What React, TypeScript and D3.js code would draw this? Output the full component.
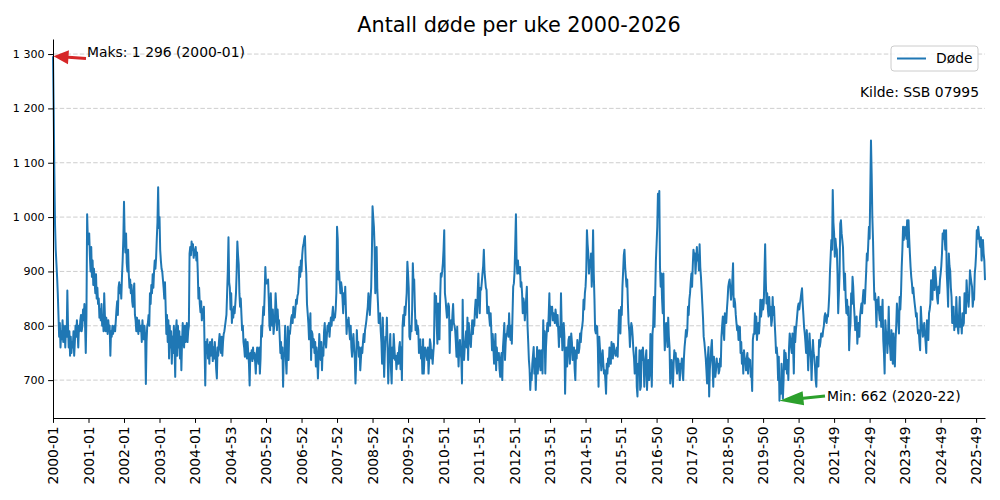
import React, { useEffect, useRef } from 'react';
import * as d3 from 'd3';

// Døde per uke, lest av figuren (kilde: SSB 07995)
const y2000 = [1296, 1200, 1080, 985, 940, 915, 890, 860, 820, 780, 805, 760, 790, 775, 810, 770, 800, 790, 760, 800, 780, 865, 800, 760, 790, 745, 780, 750, 770, 760, 790, 745, 770, 800, 780, 810, 790, 760, 800, 790, 810, 820, 790, 800, 830, 810, 840, 800, 750, 820, 1005, 960];
const y2001 = [950, 970, 930, 900, 945, 890, 920, 875, 905, 880, 860, 895, 850, 870, 840, 850, 815, 830, 810, 840, 800, 820, 790, 860, 820, 790, 815, 800, 785, 810, 790, 800, 745, 790, 780, 800, 785, 795, 800, 790, 810, 830, 845, 820, 870, 880, 860, 875, 850, 890, 920, 960];
const y2002 = [1028, 960, 935, 970, 915, 900, 940, 895, 870, 885, 860, 875, 845, 835, 860, 878, 820, 810, 790, 815, 800, 785, 810, 795, 790, 800, 770, 810, 790, 775, 800, 780, 693, 770, 800, 805, 820, 800, 860, 840, 875, 860, 895, 870, 900, 920, 905, 925, 960, 990, 1055, 980];
const y2003 = [1000, 940, 920, 905, 900, 885, 870, 850, 880, 835, 785, 820, 770, 810, 740, 800, 760, 790, 730, 780, 750, 800, 760, 706, 790, 810, 745, 800, 760, 790, 740, 780, 718, 770, 805, 780, 760, 800, 770, 790, 805, 770, 790, 800, 933, 945, 930, 955, 940, 950, 925, 940];
const y2004 = [930, 945, 920, 935, 900, 850, 870, 840, 825, 845, 810, 830, 815, 835, 760, 690, 770, 750, 775, 740, 765, 730, 770, 745, 760, 775, 735, 760, 740, 770, 750, 720, 703, 760, 745, 770, 785, 760, 750, 780, 745, 770, 785, 790, 800, 810, 820, 860, 900, 963, 880, 870, 830];
const y2005 = [860, 805, 830, 815, 835, 823, 840, 860, 900, 955, 930, 913, 860, 835, 850, 820, 792, 800, 770, 760, 743, 775, 760, 740, 770, 750, 730, 690, 750, 740, 755, 735, 760, 740, 750, 735, 712, 745, 760, 740, 730, 760, 712, 740, 800, 780, 810, 835, 820, 860, 908, 878];
const y2006 = [878, 880, 885, 850, 800, 792, 860, 815, 800, 830, 785, 800, 810, 860, 835, 792, 830, 805, 810, 780, 750, 770, 740, 760, 688, 750, 745, 800, 737, 712, 760, 798, 737, 790, 785, 800, 815, 820, 805, 835, 820, 815, 830, 848, 840, 855, 860, 880, 908, 890, 920, 900];
const y2007 = [930, 945, 950, 960, 965, 920, 896, 840, 823, 805, 775, 800, 823, 737, 790, 785, 760, 775, 750, 770, 725, 760, 740, 703, 740, 785, 760, 737, 770, 718, 760, 745, 790, 805, 770, 760, 780, 800, 790, 805, 780, 800, 815, 800, 820, 835, 810, 820, 815, 830, 860, 982];
const y2008 = [960, 885, 900, 878, 860, 880, 870, 850, 823, 860, 840, 872, 830, 785, 810, 800, 815, 790, 775, 800, 760, 743, 770, 785, 760, 740, 694, 730, 792, 760, 770, 743, 760, 718, 740, 760, 750, 770, 785, 770, 792, 800, 810, 823, 835, 860, 840, 820, 848, 870, 930, 1020];
const y2009 = [1000, 982, 945, 860, 900, 945, 866, 840, 805, 820, 823, 790, 770, 730, 815, 760, 706, 750, 780, 775, 815, 760, 694, 740, 760, 785, 720, 694, 760, 740, 785, 760, 737, 745, 720, 737, 750, 730, 760, 770, 720, 760, 700, 800, 820, 800, 835, 820, 840, 860, 918, 896, 870];
const y2010 = [780, 775, 800, 790, 830, 915, 880, 885, 835, 792, 810, 785, 800, 792, 750, 770, 775, 740, 760, 712, 775, 712, 740, 760, 755, 745, 737, 760, 712, 740, 775, 767, 740, 755, 730, 750, 767, 860, 830, 855, 800, 767, 841, 820, 775, 850, 896, 890, 900, 915, 940, 976];
const y2011 = [860, 848, 830, 815, 830, 841, 835, 750, 805, 810, 792, 820, 840, 805, 800, 792, 770, 743, 798, 760, 725, 760, 774, 750, 740, 694, 848, 760, 737, 760, 774, 790, 760, 815, 737, 805, 780, 770, 761, 790, 810, 785, 810, 800, 830, 848, 830, 815, 860, 896, 850, 823];
const y2012 = [870, 866, 880, 896, 910, 940, 900, 885, 870, 866, 823, 835, 835, 815, 800, 823, 790, 755, 785, 760, 730, 760, 785, 718, 760, 737, 745, 750, 720, 706, 740, 750, 700, 760, 780, 805, 737, 770, 785, 785, 800, 780, 823, 790, 774, 800, 767, 820, 872, 878, 900, 950];
const y2013 = [1005, 920, 896, 920, 900, 896, 908, 872, 880, 860, 823, 850, 841, 810, 830, 850, 872, 800, 770, 737, 720, 682, 712, 700, 730, 745, 761, 712, 740, 682, 720, 761, 712, 740, 755, 730, 718, 755, 740, 712, 810, 760, 790, 712, 760, 785, 805, 790, 820, 860, 800, 835];
const y2014 = [830, 835, 810, 823, 815, 805, 830, 817, 800, 820, 792, 761, 798, 780, 860, 800, 755, 780, 805, 780, 675, 737, 760, 725, 750, 774, 780, 730, 760, 786, 770, 737, 750, 760, 720, 700, 755, 740, 774, 760, 750, 760, 786, 770, 790, 798, 810, 848, 830, 860, 872, 900];
const y2015 = [976, 950, 933, 896, 920, 910, 933, 872, 900, 976, 896, 850, 792, 786, 800, 798, 760, 688, 780, 760, 743, 718, 740, 755, 730, 712, 718, 700, 675, 730, 712, 740, 725, 760, 743, 730, 770, 750, 740, 767, 760, 750, 745, 750, 760, 743, 790, 829, 800, 786, 835, 820, 872];
const y2016 = [900, 930, 940, 908, 890, 872, 885, 840, 805, 790, 761, 790, 805, 798, 780, 755, 740, 712, 718, 760, 688, 670, 730, 712, 755, 682, 688, 755, 737, 760, 737, 688, 720, 740, 755, 682, 720, 737, 700, 712, 785, 740, 688, 785, 800, 853, 798, 860, 920, 950, 982, 1043];
const y2017 = [1000, 1048, 908, 872, 896, 850, 823, 896, 800, 755, 780, 805, 790, 761, 815, 780, 761, 694, 720, 737, 710, 688, 730, 755, 740, 750, 725, 712, 740, 737, 720, 700, 730, 725, 740, 712, 700, 740, 761, 775, 792, 780, 792, 835, 820, 848, 860, 880, 896, 872, 910, 940];
const y2018 = [930, 933, 896, 920, 945, 920, 930, 902, 950, 908, 890, 866, 840, 815, 780, 770, 755, 740, 718, 694, 740, 761, 670, 720, 737, 760, 774, 730, 688, 743, 720, 706, 718, 740, 725, 730, 712, 718, 740, 725, 780, 800, 817, 790, 774, 823, 810, 805, 830, 848, 872, 880];
const y2019 = [885, 870, 848, 860, 885, 915, 835, 850, 841, 820, 805, 792, 800, 774, 790, 798, 750, 770, 730, 750, 712, 755, 740, 737, 718, 740, 750, 712, 740, 730, 737, 706, 712, 680, 774, 785, 785, 823, 786, 817, 774, 792, 805, 786, 810, 848, 817, 830, 848, 830, 841, 896];
const y2020 = [950, 880, 841, 860, 830, 817, 853, 820, 835, 800, 810, 853, 820, 835, 805, 780, 750, 760, 743, 700, 743, 662, 690, 675, 730, 700, 666, 700, 755, 720, 750, 730, 712, 737, 700, 760, 786, 774, 760, 750, 786, 760, 712, 798, 770, 792, 805, 820, 835, 841, 830, 841, 850];
const y2021 = [860, 869, 841, 820, 798, 786, 770, 750, 792, 760, 718, 750, 786, 760, 743, 700, 740, 774, 750, 743, 725, 700, 688, 743, 730, 725, 774, 761, 770, 786, 786, 780, 792, 800, 817, 823, 810, 805, 820, 817, 835, 860, 902, 930, 958, 940, 1050, 990, 970, 927, 960, 945];
const y2022 = [940, 896, 823, 860, 896, 988, 994, 970, 958, 945, 900, 866, 896, 850, 823, 848, 820, 835, 755, 790, 805, 860, 840, 890, 872, 840, 817, 792, 800, 817, 767, 790, 805, 780, 817, 830, 841, 823, 850, 866, 850, 841, 872, 900, 933, 920, 950, 982, 960, 1050, 1141, 1080];
const y2023 = [1000, 958, 896, 848, 860, 841, 798, 848, 830, 853, 823, 810, 835, 798, 820, 848, 774, 750, 712, 810, 790, 786, 750, 780, 835, 774, 760, 737, 792, 760, 730, 786, 750, 725, 774, 800, 841, 823, 810, 786, 853, 830, 860, 908, 940, 982, 958, 970, 982, 976, 960, 994];
const y2024 = [945, 994, 960, 933, 908, 890, 878, 860, 870, 853, 841, 830, 817, 823, 800, 786, 792, 770, 755, 835, 810, 798, 780, 790, 805, 786, 770, 750, 810, 790, 774, 823, 830, 841, 884, 860, 848, 902, 880, 866, 908, 890, 872, 850, 841, 872, 860, 884, 896, 910, 933, 970];
const y2025 = [960, 976, 958, 940, 976, 896, 870, 835, 933, 910, 902, 870, 853, 805, 820, 835, 792, 810, 798, 853, 820, 798, 786, 820, 853, 798, 810, 786, 823, 800, 805, 860, 840, 823, 884, 860, 848, 835, 860, 902, 890, 880, 872, 835, 850, 848, 896, 910, 933, 976, 960, 982];
const y2026 = [970, 955, 945, 963, 920, 940, 958, 933, 920, 884];

const years = [2000, 2001, 2002, 2003, 2004, 2005, 2006, 2007, 2008, 2009, 2010, 2011, 2012, 2013,
    2014, 2015, 2016, 2017, 2018, 2019, 2020, 2021, 2022, 2023, 2024, 2025, 2026];
const yearValues = [y2000, y2001, y2002, y2003, y2004, y2005, y2006, y2007, y2008, y2009, y2010, y2011, y2012,
    y2013, y2014, y2015, y2016, y2017, y2018, y2019, y2020, y2021, y2022, y2023, y2024, y2025, y2026];

// hver 52. uke
const xTickLabels = ['2000-01', '2001-01', '2002-01', '2003-01', '2004-01', '2004-53', '2005-52', '2006-52',
    '2007-52', '2008-52', '2009-52', '2010-51', '2011-51', '2012-51', '2013-51', '2014-51', '2015-51',
    '2016-50', '2017-50', '2018-50', '2019-50', '2020-50', '2021-49', '2022-49', '2023-49', '2024-49', '2025-49'];
const yTicks = [700, 800, 900, 1000, 1100, 1200, 1300];

const data = years.flatMap((yr, i) =>
    yearValues[i].map((v, w) => ({ label: `${yr}-${String(w + 1).padStart(2, '0')}`, value: v })));

const nb = d3.formatLocale({ decimal: ',', thousands: '\u00a0', grouping: [3], currency: ['', ''] }).format(',d');

const arrowPath = (sx, sy, tx, ty, w, hw, hl) => {
    const len = Math.hypot(tx - sx, ty - sy);
    const ux = (tx - sx) / len, uy = (ty - sy) / len;
    const nx = -uy, ny = ux;
    const bx = tx - ux * hl, by = ty - uy * hl;
    const pts = [
        [sx + nx * w / 2, sy + ny * w / 2],
        [bx + nx * w / 2, by + ny * w / 2],
        [bx + nx * hw / 2, by + ny * hw / 2],
        [tx, ty],
        [bx - nx * hw / 2, by - ny * hw / 2],
        [bx - nx * w / 2, by - ny * w / 2],
        [sx - nx * w / 2, sy - ny * w / 2],
    ];
    return 'M' + pts.map(p => p.join(',')).join('L') + 'Z';
};

const Chart = () => {
    const svgRef = useRef(null);

    useEffect(() => {
        const svg = d3.select(svgRef.current);
        const width = 1000;
        const height = 500;
        const marginTop = 39;
        const marginRight = 15;
        const marginBottom = 82;
        const marginLeft = 53;
        const font = 'DejaVu Sans, sans-serif';

        svg.attr('width', width).attr('height', height).selectAll('*').remove();

        const x = d3.scaleLinear()
            .domain([0, data.length - 1])
            .range([marginLeft, width - marginRight]);

        const [lo, hi] = d3.extent(data, d => d.value);
        const pad = (hi - lo) * 0.05;
        const y = d3.scaleLinear()
            .domain([lo - pad, hi + pad])
            .range([height - marginBottom, marginTop]);

        // grid
        svg.append('g')
            .selectAll('line')
            .data(yTicks)
            .enter()
            .append('line')
            .attr('x1', marginLeft)
            .attr('x2', width - marginRight)
            .attr('y1', d => y(d))
            .attr('y2', d => y(d))
            .attr('stroke', '#c8c8c8')
            .attr('stroke-width', 0.9)
            .attr('stroke-dasharray', '4.5,2.2');

        const line = d3.line()
            .x((d, i) => x(i))
            .y(d => y(d.value));

        svg.append('path')
            .datum(data)
            .attr('d', line)
            .attr('fill', 'none')
            .attr('stroke', '#1f77b4')
            .attr('stroke-width', 2)
            .attr('stroke-linejoin', 'round');

        const yAxis = svg.append('g')
            .attr('transform', `translate(${marginLeft}, 0)`)
            .call(d3.axisLeft(y).tickValues(yTicks).tickFormat(d => nb(d)).tickSize(4.9).tickSizeOuter(0).tickPadding(3.5));
        yAxis.selectAll('text').attr('font-size', 11.1).attr('font-family', font).attr('fill', '#000');

        const xTicks = xTickLabels.map((_, i) => i * 52);
        const xAxis = svg.append('g')
            .attr('transform', `translate(0, ${height - marginBottom})`)
            .call(d3.axisBottom(x).tickValues(xTicks).tickFormat((d, i) => xTickLabels[i]).tickSize(4.9).tickSizeOuter(0));
        xAxis.selectAll('text')
            .attr('y', 0)
            .attr('x', -8.4)
            .attr('dy', '0.35em')
            .attr('transform', 'rotate(-90)')
            .attr('text-anchor', 'end')
            .attr('font-size', 13.9)
            .attr('font-family', font)
            .attr('fill', '#000');

        svg.selectAll('.domain, .tick line').attr('stroke', '#000').attr('stroke-width', 1);

        // title
        svg.append('text')
            .attr('x', (marginLeft + width - marginRight) / 2)
            .attr('y', 31.5)
            .attr('text-anchor', 'middle')
            .attr('font-family', font)
            .attr('font-size', 20.8)
            .text('Antall døde per uke 2000-2026');

        // maks / min
        const iMax = d3.maxIndex(data, d => d.value);
        const iMin = d3.minIndex(data, d => d.value);

        svg.append('path')
            .attr('d', arrowPath(86, 58.5, x(iMax) + 0.5, y(data[iMax].value), 3, 14, 15))
            .attr('fill', '#d62728');
        svg.append('text')
            .attr('x', 87)
            .attr('y', 52.5)
            .attr('dy', '0.35em')
            .attr('font-family', font)
            .attr('font-size', 13.9)
            .text(`Maks: ${nb(data[iMax].value)} (${data[iMax].label})`);

        svg.append('path')
            .attr('d', arrowPath(825, 396, x(iMin), y(data[iMin].value), 3, 14, 24))
            .attr('fill', '#2ca02c');
        svg.append('text')
            .attr('x', 827)
            .attr('y', 396.5)
            .attr('dy', '0.35em')
            .attr('font-family', font)
            .attr('font-size', 13.9)
            .text(`Min: ${nb(data[iMin].value)} (${data[iMin].label})`);

        // legend
        const lg = svg.append('g');
        lg.append('rect')
            .attr('x', 891).attr('y', 46).attr('width', 87).attr('height', 25).attr('rx', 3)
            .attr('fill', '#fff').attr('fill-opacity', 0.8)
            .attr('stroke', '#cccccc').attr('stroke-width', 1);
        lg.append('line')
            .attr('x1', 897).attr('x2', 926).attr('y1', 58.5).attr('y2', 58.5)
            .attr('stroke', '#1f77b4').attr('stroke-width', 2);
        lg.append('text')
            .attr('x', 936).attr('y', 58.5).attr('dy', '0.35em')
            .attr('font-family', font).attr('font-size', 13.9)
            .text('Døde');

        svg.append('text')
            .attr('x', 979)
            .attr('y', 92)
            .attr('dy', '0.35em')
            .attr('text-anchor', 'end')
            .attr('font-family', font)
            .attr('font-size', 13.9)
            .text('Kilde: SSB 07995');
    }, []);

    return <svg ref={svgRef} style={{ position: 'absolute', left: 0, top: 0 }}></svg>;
};

export default function App() {
    return <Chart />;
}
